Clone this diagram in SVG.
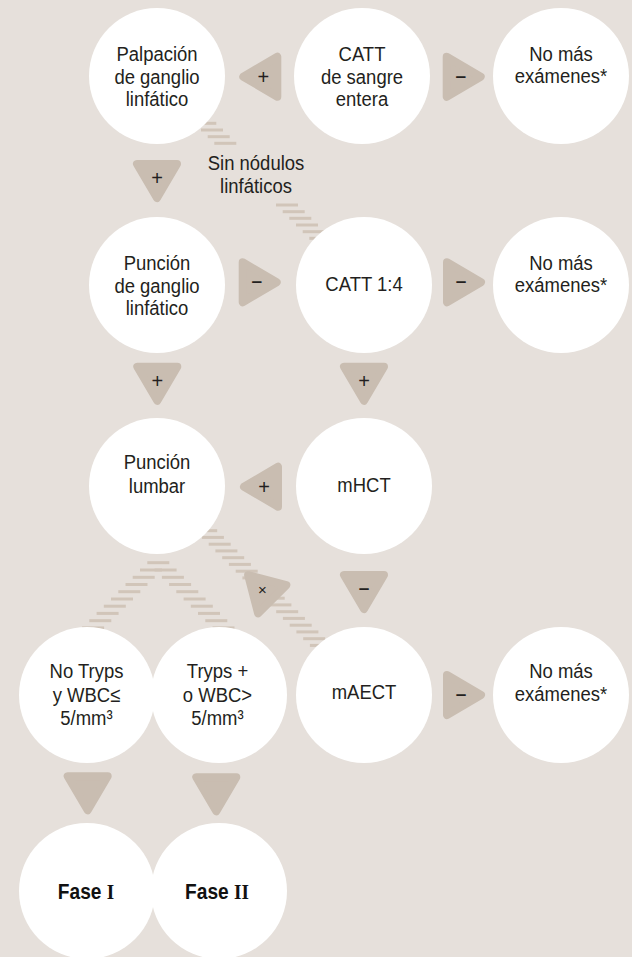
<svg xmlns="http://www.w3.org/2000/svg" xmlns:xlink="http://www.w3.org/1999/xlink" width="632" height="957" viewBox="0 0 632 957">
<style>
.bg{fill:#e6e0db}
.node{fill:#ffffff}
.dash{fill:#d1c5b9}
.t{font-family:"Liberation Sans",Arial,sans-serif;font-size:21px;fill:#231f20;text-anchor:middle}
.b{font-family:"Liberation Sans",Arial,sans-serif;font-size:22px;font-weight:bold;fill:#111;text-anchor:middle}
.rn{font-family:"Liberation Serif","Times New Roman",serif;font-weight:bold}
.lp{font-family:"Liberation Sans",Arial,sans-serif;font-size:20px;fill:#231f20;text-anchor:middle}
.lm{font-family:"Liberation Sans",Arial,sans-serif;font-size:19px;font-weight:bold;fill:#231f20;text-anchor:middle}
.lx{font-family:"Liberation Sans",Arial,sans-serif;font-size:15px;fill:#231f20;text-anchor:middle}
</style>
<defs>
<path id="tri" d="M-20,-14 L20,-14 L0,20 Z" fill="#c9bdb1" stroke="#c9bdb1" stroke-width="8" stroke-linejoin="round"/>
<rect id="d" x="-11" y="-1.5" width="22" height="3" class="dash"/>
</defs>
<rect class="bg" x="0" y="0" width="632" height="957"/>

<g id="connectors">
  <!-- Palpación -> CATT 1:4 (Sin nódulos linfáticos) -->
  <g id="c-sin-nodulos">
    <use href="#d" x="205.3" y="123.3"/>
    <use href="#d" x="212" y="130"/>
    <use href="#d" x="218.7" y="136.7"/>
    <use href="#d" x="225.3" y="143.3"/>
    <use href="#d" x="287" y="205"/>
    <use href="#d" x="293.7" y="211.7"/>
    <use href="#d" x="300.3" y="218.3"/>
    <use href="#d" x="307" y="225"/>
    <use href="#d" x="313.7" y="231.7"/>
    <use href="#d" x="320.3" y="238.3"/>
    <text class="t" transform="translate(256 0) scale(0.88 1)"><tspan x="0" y="170">Sin nódulos</tspan><tspan x="0" y="193">linfáticos</tspan></text>
  </g>
  <!-- Punción lumbar <-> mAECT -->
  <g id="c-lumbar-maect">
    <use href="#d" x="206.2" y="530.7"/>
    <use href="#d" x="212.9" y="537.4"/>
    <use href="#d" x="219.7" y="544.2"/>
    <use href="#d" x="226.4" y="550.9"/>
    <use href="#d" x="233.2" y="557.7"/>
    <use href="#d" x="239.9" y="564.4"/>
    <use href="#d" x="246.7" y="571.2"/>
    <use href="#d" x="253.4" y="577.9"/>
    <use href="#d" x="260.2" y="584.7"/>
    <use href="#d" x="266.9" y="591.4"/>
    <use href="#d" x="273.7" y="598.2"/>
    <use href="#d" x="280.4" y="604.9"/>
    <use href="#d" x="287.2" y="611.7"/>
    <use href="#d" x="293.9" y="618.4"/>
    <use href="#d" x="300.7" y="625.2"/>
    <use href="#d" x="307.4" y="631.9"/>
    <use href="#d" x="314.2" y="638.7"/>
    <use href="#d" x="320.9" y="645.4"/>
  </g>
  <!-- Punción lumbar -> No Tryps / Tryps + -->
  <g id="c-lumbar-results">
    <use href="#d" x="158.3" y="562.7"/>
    <use href="#d" x="151" y="570"/>
    <use href="#d" x="143.7" y="577.3"/>
    <use href="#d" x="136.5" y="584.5"/>
    <use href="#d" x="129.3" y="591.7"/>
    <use href="#d" x="122" y="599"/>
    <use href="#d" x="114.8" y="606.2"/>
    <use href="#d" x="107.6" y="613.4"/>
    <use href="#d" x="100.3" y="620.7"/>
    <use href="#d" x="93.1" y="627.9"/>
    <use href="#d" x="85.8" y="635.2"/>
    <use href="#d" x="165.6" y="570"/>
    <use href="#d" x="172.9" y="577.3"/>
    <use href="#d" x="180.1" y="584.5"/>
    <use href="#d" x="187.3" y="591.7"/>
    <use href="#d" x="194.6" y="599"/>
    <use href="#d" x="201.8" y="606.2"/>
    <use href="#d" x="209" y="613.4"/>
    <use href="#d" x="216.3" y="620.7"/>
    <use href="#d" x="223.5" y="627.9"/>
    <use href="#d" x="230.8" y="635.2"/>
  </g>
  <!-- arrow triangles -->
  <g id="a1"><use href="#tri" transform="translate(263.3 76.7) rotate(90)"/><text class="lp" x="263.3" y="83.7">+</text></g>
  <g id="a2"><use href="#tri" transform="translate(460.7 76.7) rotate(-90)"/><text class="lm" x="460.7" y="81.7">–</text></g>
  <g id="a3"><use href="#tri" transform="translate(157 178)"/><text class="lp" x="157" y="185">+</text></g>
  <g id="a4"><use href="#tri" transform="translate(256.7 282.3) rotate(-90)"/><text class="lm" x="256.7" y="287.3">–</text></g>
  <g id="a5"><use href="#tri" transform="translate(461 282.3) rotate(-90)"/><text class="lm" x="461" y="287.3">–</text></g>
  <g id="a6"><use href="#tri" transform="translate(157.3 380.7)"/><text class="lp" x="157.3" y="387.7">+</text></g>
  <g id="a7"><use href="#tri" transform="translate(364 380.7)"/><text class="lp" x="364" y="387.7">+</text></g>
  <g id="a8"><use href="#tri" transform="translate(264 486.7) rotate(90)"/><text class="lp" x="264" y="493.7">+</text></g>
  <g id="a9"><use href="#tri" transform="translate(364 589)"/><text class="lm" x="364" y="594">–</text></g>
  <g id="a10"><use href="#tri" transform="translate(262.3 589.3) rotate(135)"/><text class="lx" x="262.3" y="594.5">×</text></g>
  <g id="a11"><use href="#tri" transform="translate(461 695) rotate(-90)"/><text class="lm" x="461" y="700">–</text></g>
  <g id="a12"><use href="#tri" transform="translate(87.7 790.3)"/></g>
  <g id="a13"><use href="#tri" transform="translate(216.3 791.3)"/></g>
</g>

<g id="nodes">
  <g id="n-palpacion">
    <circle class="node" cx="157" cy="76" r="68"/>
    <text class="t" transform="translate(157 0) scale(0.88 1)"><tspan x="0" y="61">Palpación</tspan><tspan x="0" y="83.7">de ganglio</tspan><tspan x="0" y="106.4">linfático</tspan></text>
  </g>
  <g id="n-catt">
    <circle class="node" cx="362" cy="76" r="68"/>
    <text class="t" transform="translate(362 0) scale(0.88 1)"><tspan x="0" y="61">CATT</tspan><tspan x="0" y="83.7">de sangre</tspan><tspan x="0" y="106.4">entera</tspan></text>
  </g>
  <g id="n-nomas1">
    <circle class="node" cx="561" cy="76" r="68"/>
    <text class="t" transform="translate(561 0) scale(0.88 1)"><tspan x="0" y="61.5">No más</tspan><tspan x="0" y="83.5">exámenes*</tspan></text>
  </g>
  <g id="n-puncion-ganglio">
    <circle class="node" cx="157" cy="285" r="68"/>
    <text class="t" transform="translate(157 0) scale(0.88 1)"><tspan x="0" y="270">Punción</tspan><tspan x="0" y="292.7">de ganglio</tspan><tspan x="0" y="315.4">linfático</tspan></text>
  </g>
  <g id="n-catt14">
    <circle class="node" cx="364" cy="285" r="68"/>
    <text class="t" transform="translate(364 0) scale(0.88 1)" x="0" y="290.7">CATT 1:4</text>
  </g>
  <g id="n-nomas2">
    <circle class="node" cx="561" cy="285" r="68"/>
    <text class="t" transform="translate(561 0) scale(0.88 1)"><tspan x="0" y="270.5">No más</tspan><tspan x="0" y="292.5">exámenes*</tspan></text>
  </g>
  <g id="n-lumbar">
    <circle class="node" cx="157" cy="486" r="68"/>
    <text class="t" transform="translate(157 0) scale(0.88 1)"><tspan x="0" y="469.3">Punción</tspan><tspan x="0" y="493.3">lumbar</tspan></text>
  </g>
  <g id="n-mhct">
    <circle class="node" cx="364" cy="486" r="68"/>
    <text class="t" transform="translate(364 0) scale(0.88 1)" x="0" y="491.7">mHCT</text>
  </g>
  <g id="n-notryps">
    <circle class="node" cx="87" cy="695" r="68"/>
    <text class="t" transform="translate(86.5 0) scale(0.88 1)"><tspan x="0" y="678.3">No Tryps</tspan><tspan x="0" y="701.7">y WBC≤</tspan><tspan x="0" y="725">5/mm³</tspan></text>
  </g>
  <g id="n-tryps">
    <circle class="node" cx="219" cy="695" r="68"/>
    <text class="t" transform="translate(217.5 0) scale(0.88 1)"><tspan x="0" y="678.3">Tryps +</tspan><tspan x="0" y="701.7">o WBC&gt;</tspan><tspan x="0" y="725">5/mm³</tspan></text>
  </g>
  <g id="n-maect">
    <circle class="node" cx="364" cy="695" r="68"/>
    <text class="t" transform="translate(364 0) scale(0.88 1)" x="0" y="699.3">mAECT</text>
  </g>
  <g id="n-nomas3">
    <circle class="node" cx="561" cy="695" r="68"/>
    <text class="t" transform="translate(561 0) scale(0.88 1)"><tspan x="0" y="678.3">No más</tspan><tspan x="0" y="701.5">exámenes*</tspan></text>
  </g>
  <g id="n-fase1">
    <circle class="node" cx="87" cy="891" r="68"/>
    <text class="b" transform="translate(86 0) scale(0.87 1)" x="0" y="899">Fase <tspan class="rn">I</tspan></text>
  </g>
  <g id="n-fase2">
    <circle class="node" cx="219" cy="891" r="68"/>
    <text class="b" transform="translate(217 0) scale(0.87 1)" x="0" y="899">Fase <tspan class="rn">II</tspan></text>
  </g>
</g>
</svg>
